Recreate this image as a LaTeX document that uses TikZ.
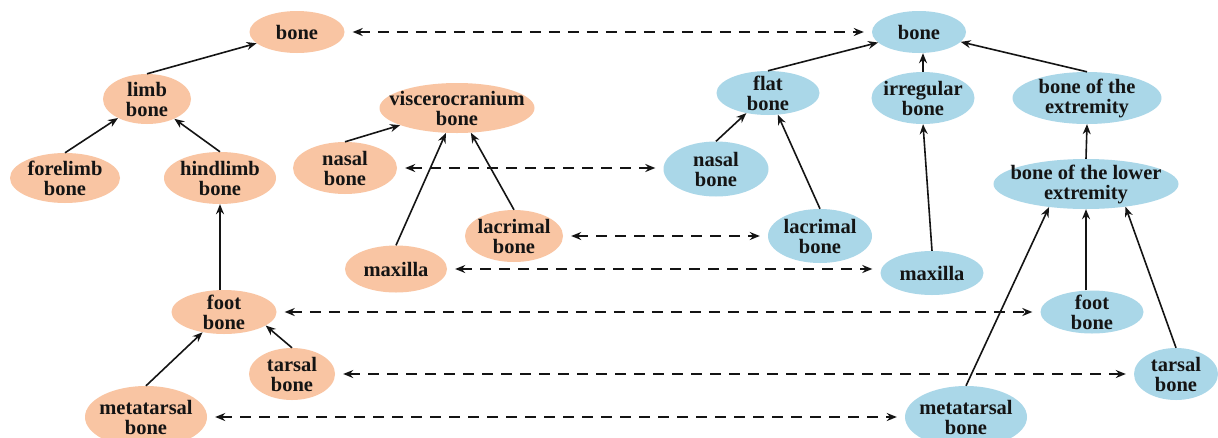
\documentclass[tikz,border=0pt]{standalone}
\usepackage{fontspec}
\setmainfont{Liberation Serif}
\usetikzlibrary{shapes.geometric,arrows.meta}
\definecolor{peach}{HTML}{F9C5A3}
\definecolor{sky}{HTML}{AAD7E8}
\definecolor{ink}{HTML}{141414}
\begin{document}
\begin{tikzpicture}[x=1pt,y=-1pt,
  blob/.style={ellipse, inner sep=0pt, draw=none},
  pk/.style={blob, fill=peach},
  bl/.style={blob, fill=sky},
  lbl/.style={font=\bfseries\fontsize{20.5}{20}\selectfont, text=ink, align=center, inner sep=0pt},
  tree/.style={-{Stealth[length=10pt,width=8pt]}, line width=1.6pt, draw=ink},
  link/.style={{Stealth[length=10pt,width=8pt]}-{Stealth[length=10pt,width=8pt]}, line width=1.6pt, dash pattern=on 11pt off 8pt, draw=ink, shorten <=8pt, shorten >=8pt}]
\fill[white] (0,0) rectangle (1218,437);
\useasboundingbox (0,0) rectangle (1218,437);
\begin{scope}
\clip (0,0) rectangle (1218,437);
% left tree (peach)
\node[pk, minimum width=95pt, minimum height=42pt] (Lbone) at (297,32) {};
\node[lbl] (Lbone-t) at (Lbone) {bone};
\node[pk, minimum width=88pt, minimum height=50pt] (Llimb) at (147,99) {};
\node[lbl] (Llimb-t) at (Llimb) {limb\\bone};
\node[pk, minimum width=110pt, minimum height=50pt] (Lfore) at (65,178) {};
\node[lbl] (Lfore-t) at (Lfore) {forelimb\\bone};
\node[pk, minimum width=112pt, minimum height=52pt] (Lhind) at (220,178) {};
\node[lbl] (Lhind-t) at (Lhind) {hindlimb\\bone};
\node[pk, minimum width=155pt, minimum height=50pt] (Lvisc) at (457,108) {};
\node[lbl] (Lvisc-t) at (Lvisc) {viscerocranium\\bone};
\node[pk, minimum width=104pt, minimum height=52pt] (Lnasal) at (345,168) {};
\node[lbl] (Lnasal-t) at (Lnasal) {nasal\\bone};
\node[pk, minimum width=98pt, minimum height=52pt] (Llacr) at (514,236) {};
\node[lbl] (Llacr-t) at (Llacr) {lacrimal\\bone};
\node[pk, minimum width=102pt, minimum height=47pt] (Lmax) at (396,269) {};
\node[lbl] (Lmax-t) at (Lmax) {maxilla};
\node[pk, minimum width=105pt, minimum height=44pt] (Lfoot) at (224,312) {};
\node[lbl] (Lfoot-t) at (Lfoot) {foot\\bone};
\node[pk, minimum width=86pt, minimum height=52pt] (Ltarsal) at (292,374) {};
\node[lbl] (Ltarsal-t) at (Ltarsal) {tarsal\\bone};
\node[pk, minimum width=122pt, minimum height=62pt] (Lmeta) at (146,417) {};
\node[lbl] (Lmeta-t) at (Lmeta) {metatarsal\\bone};
% right tree (blue)
\node[bl, minimum width=94pt, minimum height=42pt] (Rbone) at (919,32) {};
\node[lbl] (Rbone-t) at (Rbone) {bone};
\node[bl, minimum width=103pt, minimum height=44pt] (Rflat) at (768,93) {};
\node[lbl] (Rflat-t) at (Rflat) {flat\\bone};
\node[bl, minimum width=103pt, minimum height=52pt] (Rirr) at (923,98) {};
\node[lbl] (Rirr-t) at (Rirr) {irregular\\bone};
\node[bl, minimum width=149pt, minimum height=52pt] (Rext) at (1087,98) {};
\node[lbl] (Rext-t) at (Rext) {bone of the\\extremity};
\node[bl, minimum width=105pt, minimum height=55pt] (Rnasal) at (716,169) {};
\node[lbl] (Rnasal-t) at (Rnasal) {nasal\\bone};
\node[bl, minimum width=185pt, minimum height=50pt] (Rlower) at (1086,184) {};
\node[lbl] (Rlower-t) at (Rlower) {bone of the lower\\extremity};
\node[bl, minimum width=104pt, minimum height=54pt] (Rlacr) at (820,236) {};
\node[lbl] (Rlacr-t) at (Rlacr) {lacrimal\\bone};
\node[bl, minimum width=103pt, minimum height=44pt] (Rmax) at (932,273) {};
\node[lbl] (Rmax-t) at (Rmax) {maxilla};
\node[bl, minimum width=103pt, minimum height=43pt] (Rfoot) at (1092,312) {};
\node[lbl] (Rfoot-t) at (Rfoot) {foot\\bone};
\node[bl, minimum width=84pt, minimum height=52pt] (Rtarsal) at (1176,374) {};
\node[lbl] (Rtarsal-t) at (Rtarsal) {tarsal\\bone};
\node[bl, minimum width=122pt, minimum height=62pt] (Rmeta) at (966,417) {};
\node[lbl] (Rmeta-t) at (Rmeta) {metatarsal\\bone};
\end{scope}
% left tree connectors
\draw[tree] (Llimb.north) -- (Lbone);
\draw[tree] (Lfore.north) -- (Llimb);
\draw[tree] (Lhind.north) -- (Llimb);
\draw[tree] (Lhind.south |- Lfoot.north) -- (Lhind.south);
\draw[tree] (Lmeta.north) -- (Lfoot);
\draw[tree] (Ltarsal.north) -- (Lfoot.342);
\draw[tree] (Lnasal.north) -- (Lvisc);
\draw[tree] (Lmax.north) -- (Lvisc);
\draw[tree] (Llacr.north) -- (Lvisc);
% right tree connectors
\draw[tree] (Rflat.north) -- (Rbone);
\draw[tree] (Rirr.north) -- (Rirr.north |- Rbone.south);
\draw[tree] (Rext.north) -- (Rbone);
\draw[tree] (Rnasal.north) -- (Rflat);
\draw[tree] (Rlacr.north) -- (Rflat);
\draw[tree] (Rmax.north) -- (Rirr.south);
\draw[tree] (Rlower.north) -- (Rext.south);
\draw[tree] (Rmeta.north) -- (Rlower.212);
\draw[tree] (Rlower.south |- Rfoot.north) -- (Rlower.south);
\draw[tree] (Rtarsal.north) -- (Rlower.330);
% correspondences
\draw[link] (Lbone.east) -- (Rbone.west);
\draw[link] (Lnasal.east) -- (Lnasal.east -| Rnasal.west);
\draw[link] (Llacr.east) -- (Rlacr.west);
\draw[link] (Lmax.east) -- (Lmax.east -| Rmax.west);
\draw[link] (Lfoot.east) -- (Rfoot.west);
\draw[link] (Ltarsal.east) -- (Rtarsal.west);
\draw[link] (Lmeta.east) -- (Rmeta.west);
\end{tikzpicture}
\end{document}
